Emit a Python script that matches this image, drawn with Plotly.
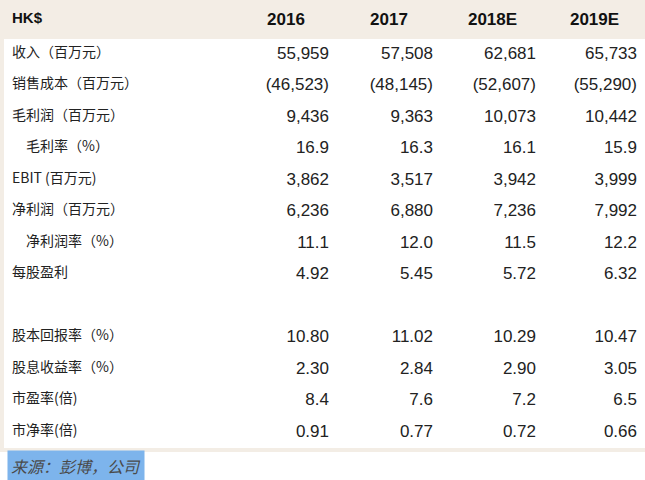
import plotly.graph_objects as go

# table data
years = ["2016", "2017", "2018E", "2019E"]
labels = ["收入（百万元）", "销售成本（百万元）", "毛利润（百万元）", "\u3000毛利率（%）",
          "EBIT (百万元)", "净利润（百万元）", "\u3000净利润率（%）", "每股盈利", "",
          "股本回报率（%）", "股息收益率（%）", "市盈率(倍)", "市净率(倍)"]
decimals = [0, 0, 0, 1, 0, 0, 1, 2, 0, 2, 2, 1, 2]
v2016 = [55959, -46523, 9436, 16.9, 3862, 6236, 11.1, 4.92, None, 10.80, 2.30, 8.4, 0.91]
v2017 = [57508, -48145, 9363, 16.3, 3517, 6880, 12.0, 5.45, None, 11.02, 2.84, 7.6, 0.77]
v2018 = [62681, -52607, 10073, 16.1, 3942, 7236, 11.5, 5.72, None, 10.29, 2.90, 7.2, 0.72]
v2019 = [65733, -55290, 10442, 15.9, 3999, 7992, 12.2, 6.32, None, 10.47, 3.05, 6.5, 0.66]
source = "来源：彭博，公司"

BEIGE = "#f3ede5"
W, H = 645, 480


def fmt(v, d):
    if v is None:
        return ""
    s = f"{abs(v):,.{d}f}"
    return f"({s})" if v < 0 else s


cols = [labels] + [[fmt(v, d) for v, d in zip(col, decimals)]
                   for col in (v2016, v2017, v2018, v2019)]

fig = go.Figure(go.Table(
    domain=dict(x=[4 / W, 1], y=[30 / H, (H - 4) / H]),
    columnwidth=[231, 102, 104, 103, 101],
    header=dict(
        values=["HK$"] + years,
        align=["left", "center", "center", "center", "center"],
        fill_color=BEIGE,
        line_color=BEIGE,
        height=34,
        font=dict(family="Liberation Sans", size=[15, 17, 17, 17, 17],
                  color="#111", weight="bold"),
    ),
    cells=dict(
        values=cols,
        align=["left", "right", "right", "right", "right"],
        fill_color="white",
        line_color="white",
        height=31.5,
        font=dict(family=["Noto Sans CJK SC"] + ["Liberation Sans"] * 4,
                  size=[14, 17, 17, 17, 17], color="#222"),
    ),
))

# beige frame behind the table
fig.add_shape(type="rect", xref="paper", yref="paper", layer="below",
              x0=0, x1=1, y0=(H - 452) / H, y1=1,
              fillcolor=BEIGE, line_width=0)

fig.add_annotation(text=source, xref="paper", yref="paper",
                   x=7 / W, y=(H - 466) / H, xanchor="left", yanchor="middle",
                   showarrow=False, bgcolor="#7db4ec", borderpad=3,
                   font=dict(family="Noto Sans CJK SC", size=16, color="#4a4a4a",
                             style="italic"))

fig.update_layout(width=W, height=H, margin=dict(l=0, r=0, t=0, b=0),
                  paper_bgcolor="white", plot_bgcolor="white")
fig.write_html("out.html", config={"displayModeBar": False},
               post_script="document.body.style.margin='0';")
